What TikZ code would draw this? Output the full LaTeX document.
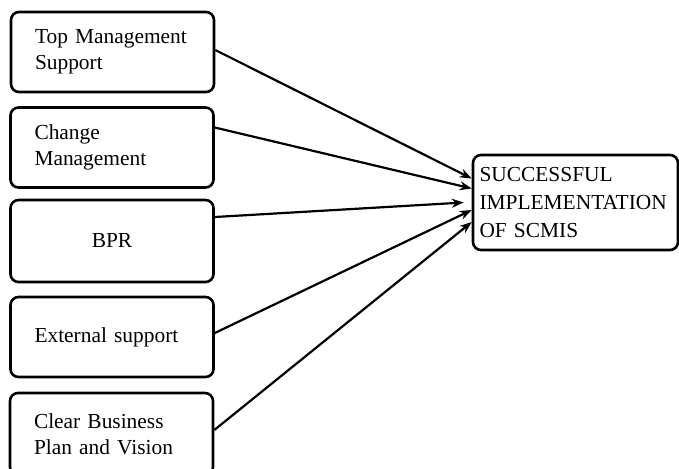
\documentclass[tikz,border=0pt]{standalone}
\usepackage{fontspec}
\setmainfont{Liberation Serif}
\usetikzlibrary{arrows.meta}
\begin{document}
\begin{tikzpicture}[x=0.5pt, y=-0.5pt, >={Stealth[length=6pt,width=4.5pt]},
		factor/.style={draw, line width=1.3pt, rounded corners=4pt, minimum width=101.5pt, minimum height=40pt,
			text width=77.5pt, inner xsep=12pt, align=left, font=\fontsize{10.7}{13.2}\selectfont},
		outcome/.style={draw, line width=1.3pt, rounded corners=4pt, minimum width=102.5pt, minimum height=47.5pt,
			text width=96pt, inner xsep=3.25pt, align=left, font=\fontsize{10.7}{14.2}\selectfont},
		link/.style={->, line width=1.1pt}]
	% frame of the picture; the lowest box runs past the bottom edge
	\path[use as bounding box, clip] (0,0) rectangle (679,468);
	% the five factors on the left
	\node[factor] (top) at (112.5,52) {Top Management\\Support};
	\node[factor] (change) at (112,147.5) {Change\\Management};
	\node[factor, align=center, minimum height=41pt] (bpr) at (112,241) {BPR};
	\node[factor] (ext) at (112,337) {External support};
	\node[factor, minimum height=41pt] (plan) at (111.5,434) {Clear Business\\Plan and Vision};
	% the result on the right
	\node[outcome] (scmis) at (575.5,202.5) {SUCCESSFUL\\IMPLEMENTATION\\OF SCMIS};
	% arrows, all meeting at the left side of the result
	\draw[link] ([yshift=1pt]top.east) -- ([yshift=12pt]scmis.west);
	\draw[link] ([yshift=10pt]change.east) -- ([yshift=7pt]scmis.west);
	\draw[link] ([yshift=12pt]bpr.east) -- ([xshift=-4pt]scmis.west);
	\draw[link] ([yshift=2pt]ext.east) -- ([yshift=-3.75pt]scmis.west);
	\draw[link] ([yshift=2pt]plan.east) -- ([yshift=-9.75pt]scmis.west);
\end{tikzpicture}
\end{document}
